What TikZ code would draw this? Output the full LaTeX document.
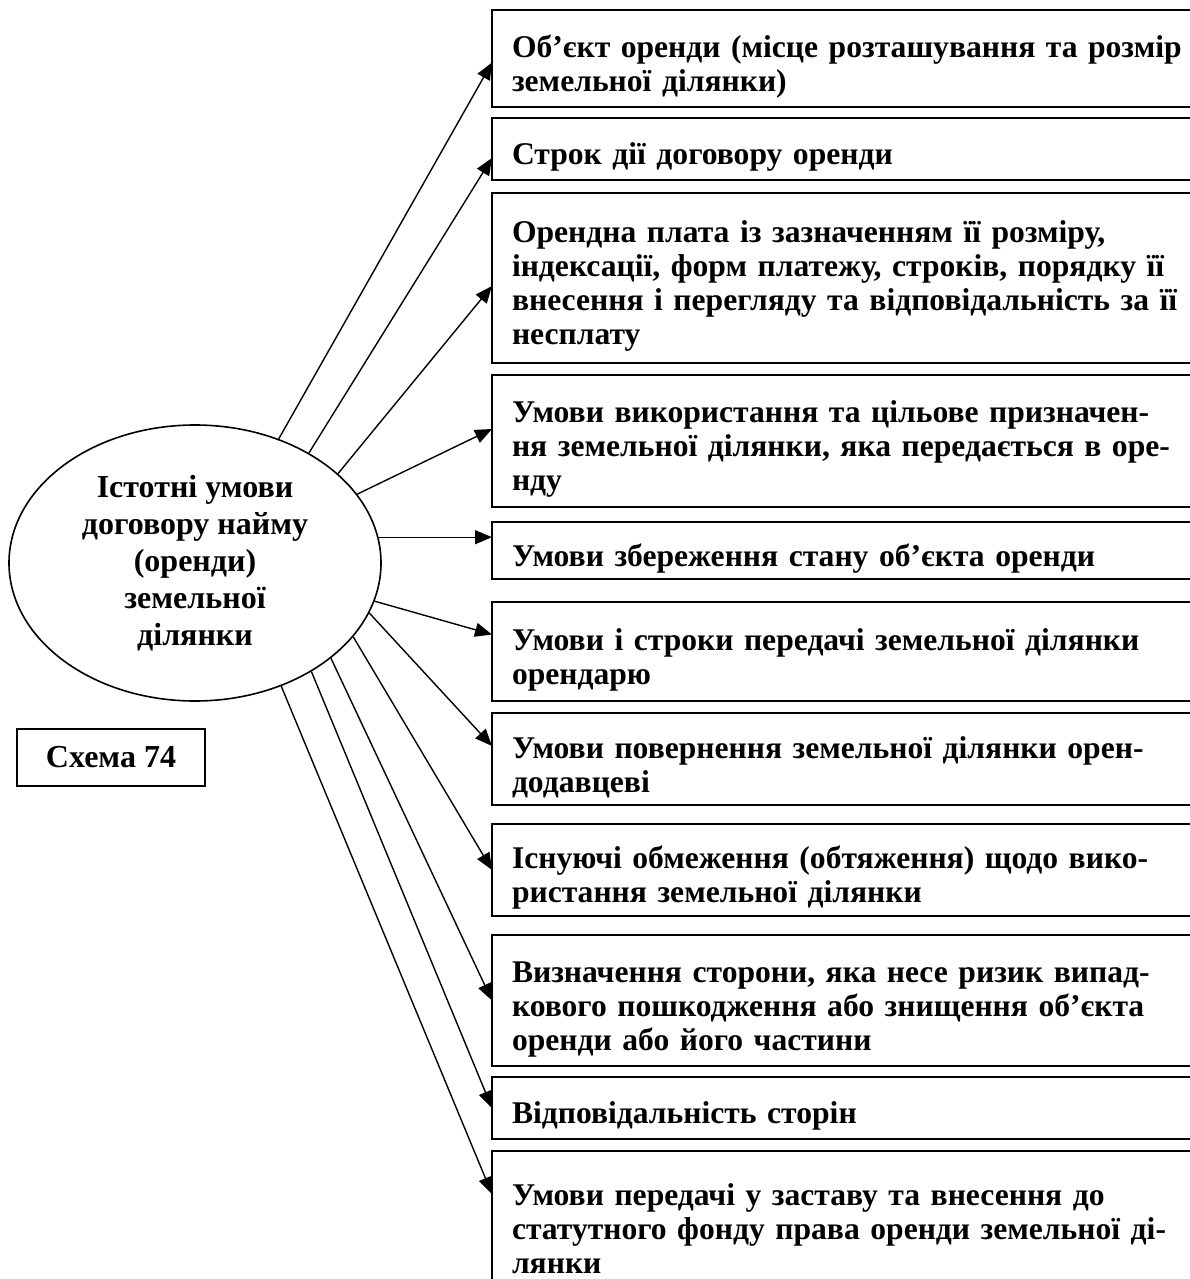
\documentclass[tikz,border=0pt]{standalone}
\usepackage{fontspec}
\setmainfont{Liberation Serif}
\usetikzlibrary{positioning,arrows.meta,shapes.geometric}

\begin{document}
\begin{tikzpicture}[x=0.5pt, y=-0.5pt, font=\fontsize{15.8}{17}\selectfont\bfseries,
  >={Triangle[length=8.5pt, width=7pt]},
  term/.style={draw, line width=1.2pt, outer sep=0pt, anchor=north west, text width=345pt, inner xsep=10pt, inner ysep=3pt, align=left,
    execute at begin node={\rule{0pt}{19pt}}},
  link/.style={->, line width=0.7pt}]
\useasboundingbox (0,0) rectangle (1189,1279);
\node[ellipse, draw, line width=0.8pt, minimum width=186pt, minimum height=138pt, inner sep=0pt, align=center,
  font=\fontsize{16}{18.5}\selectfont\bfseries] (e) at (195,563)
  {Істотні умови\\договору найму\\(оренди)\\земельної\\ділянки};
\node[draw, line width=1.2pt, minimum width=94pt, minimum height=28.5pt, font=\fontsize{16}{18}\selectfont\bfseries] (sch) at (111,757.5) {Схема 74};
\node[term, minimum height=48.5pt] (b1) at (492,10)
  {Об’єкт оренди (місце розташування та розмір\\земельної ділянки)};
\node[term, minimum height=31pt, below=5.5pt of b1] (b2) {Строк дії договору оренди};
\node[term, minimum height=85pt, below=6.5pt of b2] (b3)
  {Орендна плата із зазначенням її розміру,\\індексації, форм платежу, строків, порядку її\\внесення і перегляду та відповідальність за її\\несплату};
\node[term, minimum height=66pt, below=6pt of b3] (b4)
  {Умови використання та цільове призначен-\\ня земельної ділянки, яка передається в оре-\\нду};
\node[term, minimum height=28.5pt, below=7.5pt of b4] (b5) {Умови збереження стану об’єкта оренди};
\node[term, minimum height=49.5pt, below=11.5pt of b5] (b6)
  {Умови і строки передачі земельної ділянки\\орендарю};
\node[term, minimum height=46pt, below=6pt of b6] (b7)
  {Умови повернення земельної ділянки орен-\\додавцеві};
\node[term, minimum height=46pt, below=9.5pt of b7] (b8)
  {Існуючі обмеження (обтяження) щодо вико-\\ристання земельної ділянки};
\node[term, minimum height=65.5pt, below=9.5pt of b8] (b9)
  {Визначення сторони, яка несе ризик випад-\\кового пошкодження або знищення об’єкта\\оренди або його частини};
\node[term, minimum height=31pt, below=5.5pt of b9] (b10) {Відповідальність сторін};
\node[term, minimum height=70pt, below=6pt of b10] (b11)
  {Умови передачі у заставу та внесення до\\статутного фонду права оренди земельної ді-\\лянки};
\draw[link] (e.56) -- ([yshift=-2pt]b1.west);
\draw[link] (e.44) -- ([yshift=-4.5pt]b2.west);
\draw[link] (e.32) -- ([yshift=-4pt]b3.west);
\draw[link] (e.23) -- ([yshift=6pt]b4.west);
\draw[link] (e.8) -- (e.8 -| b5.west);
\draw[link] (e.-12) -- ([yshift=8.5pt]b6.west);
\draw[link] (e.-16) -- ([yshift=6.5pt]b7.west);
\draw[link] (e.-25) -- (b8.west);
\draw[link] (e.-35) -- (b9.west);
\draw[link] (e.-43.5) -- (b10.west);
\draw[link] (e.-55.5) -- ([yshift=13.5pt]b11.west);
\end{tikzpicture}
\end{document}
